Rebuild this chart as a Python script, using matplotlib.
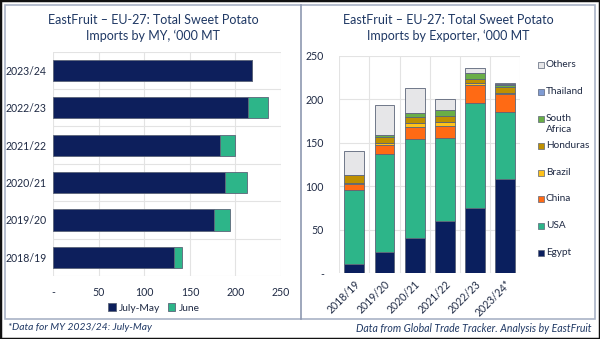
import numpy as np
import matplotlib.pyplot as plt
from matplotlib.patches import Rectangle
from matplotlib.lines import Line2D

plt.rcParams['font.family'] = ['Lato', 'DejaVu Sans']

# left chart: total imports by marketing year, '000 MT
years = ['2018/19', '2019/20', '2020/21', '2021/22', '2022/23', '2023/24']
july_may = [132, 176.5, 189, 183, 214, 218]
june = [9, 17, 23.5, 17, 21.5, 0]

# right chart: imports by exporter, '000 MT
exp_years = ['2018/19', '2019/20', '2020/21', '2021/22', '2022/23', '2023/24*']
egypt = [11, 25, 41, 60, 75.5, 109]
usa = [85, 112, 113, 96, 120, 77]
china = [7, 11, 14.5, 13.5, 21, 20]
brazil = [1, 2, 4.5, 4.5, 2.5, 1.5]
honduras = [9, 7, 7, 7, 4, 7]
south_africa = [0.5, 2, 4, 7, 7.5, 2.5]
thailand = [0, 0, 0, 0, 0, 0.3]
others = [27.5, 35, 29, 12.5, 6, 1.5]

W, H = 600, 339
NAVY = '#0D1F5C'
TEAL = '#2DB589'
TITLE_C = '#1F3864'
TEXT_C = '#1F2A44'
GRID_C = '#E3E3E3'
EDGE_C = '#5B6478'


def fx(x):
    return x / W


def fy(y):
    return 1 - y / H


fig = plt.figure(figsize=(W / 100, H / 100), dpi=100)

# frames
fig.patches.append(Rectangle((0, 0), 1, 1, transform=fig.transFigure, fill=False,
                             edgecolor='#111111', lw=2.5))
fig.patches.append(Rectangle((fx(5), fy(319)), fx(590), (319 - 5) / H, transform=fig.transFigure,
                             fill=False, edgecolor='#A9B3C6', lw=1.2))
fig.lines.append(Line2D([fx(300.5), fx(300.5)], [fy(5), fy(319)], transform=fig.transFigure,
                        color='#8E98B0', lw=1.2))

# ---- left chart ----
ax1 = fig.add_axes([fx(53.3), fy(276), fx(227.7), (276 - 51.7) / H])
ypos = np.arange(len(years))
ax1.barh(ypos, july_may, height=0.57, color=NAVY, edgecolor=EDGE_C, lw=0.6, label='July-May', zorder=3)
ax1.barh(ypos, june, left=july_may, height=0.57, color=TEAL, edgecolor=EDGE_C, lw=0.6, label='June', zorder=3)
ax1.set_xlim(0, 250)
ax1.set_ylim(-0.5, len(years) - 0.5)
ax1.set_xticks(range(0, 251, 50))
ax1.set_xticklabels(['-', '50', '100', '150', '200', '250'])
ax1.set_yticks(ypos)
ax1.set_yticklabels(years)
ax1.set_yticks(np.arange(-0.5, len(years), 1), minor=True)
ax1.grid(axis='x', color=GRID_C, lw=0.8, zorder=0)
ax1.grid(axis='y', which='minor', color=GRID_C, lw=0.8, zorder=0)
ax1.tick_params(which='both', length=0, labelsize=7.6, colors=TEXT_C)
ax1.tick_params(axis='x', pad=8)
ax1.tick_params(axis='y', pad=5)
for s in ax1.spines.values():
    s.set_visible(False)
ax1.legend(loc='center', bbox_to_anchor=(fx(154), fy(308)), bbox_transform=fig.transFigure, ncol=2,
           frameon=False, fontsize=7.4, handlelength=0.7, handleheight=0.7, handletextpad=0.3,
           columnspacing=0.8, labelcolor=TEXT_C)
fig.text(fx(153), fy(28), 'EastFruit – EU-27: Total Sweet Potato\nImports by MY, ‘000 MT',
         ha='center', va='center', fontsize=9, color=TITLE_C, linespacing=1.42)

# ---- right chart ----
ax2 = fig.add_axes([fx(339.3), fy(273.3), fx(180.7), (273.3 - 56) / H])
xpos = np.arange(len(exp_years))
series = [('Egypt', egypt, '#0A1F5E'), ('USA', usa, '#2DB589'), ('China', china, '#FF6A14'),
          ('Brazil', brazil, '#FFC21A'), ('Honduras', honduras, '#BF9000'),
          ('South\nAfrica', south_africa, '#6AAE47'), ('Thailand', thailand, '#7F9BD3'),
          ('Others', others, '#E6E6E8')]
bottom = np.zeros(len(exp_years))
for name, vals, col in series:
    ax2.bar(xpos, vals, bottom=bottom, width=0.66, color=col, edgecolor=EDGE_C, lw=0.6, zorder=3)
    bottom += np.array(vals)
ax2.set_ylim(0, 250)
ax2.set_xlim(-0.5, len(exp_years) - 0.5)
ax2.set_yticks(range(0, 251, 50))
ax2.set_yticklabels(['-', '50', '100', '150', '200', '250'])
ax2.set_xticks(xpos)
ax2.set_xticklabels(exp_years, rotation=45, ha='right', rotation_mode='anchor')
ax2.set_xticks(np.arange(-0.5, len(exp_years), 1), minor=True)
ax2.grid(axis='y', color=GRID_C, lw=0.8, zorder=0)
ax2.grid(axis='x', which='minor', color=GRID_C, lw=0.8, zorder=0)
ax2.tick_params(which='both', length=0, labelsize=7.6, colors=TEXT_C)
ax2.tick_params(axis='y', pad=11)
ax2.tick_params(axis='x', pad=4)
for s in ax2.spines.values():
    s.set_visible(False)
fig.text(fx(448), fy(28), 'EastFruit – EU-27: Total Sweet Potato\nImports by Exporter, ‘000 MT',
         ha='center', va='center', fontsize=9, color=TITLE_C, linespacing=1.42)

# legend for right chart, top entry = top of stack
leg_y = [65, 92, 119, 146, 173, 199, 226, 253]
for (name, vals, col), y in zip(reversed(series), leg_y):
    fig.patches.append(Rectangle((fx(537.5), fy(y + 3.2)), fx(6.4), 6.4 / H, transform=fig.transFigure,
                                 facecolor=col, edgecolor=EDGE_C, lw=0.5))
    fig.text(fx(546), fy(y - 5), name, ha='left', va='top', fontsize=7.2, color=TEXT_C, linespacing=1.35)

# footers
fig.text(fx(8), fy(328), '*Data for MY 2023/24: July-May', ha='left', va='center',
         fontsize=7.4, style='italic', color=TITLE_C)
fig.text(fx(592), fy(328), 'Data from Global Trade Tracker. Analysis by EastFruit', ha='right',
         va='center', fontsize=7.6, style='italic', color=TITLE_C)

fig.savefig('out.png', dpi=100)
